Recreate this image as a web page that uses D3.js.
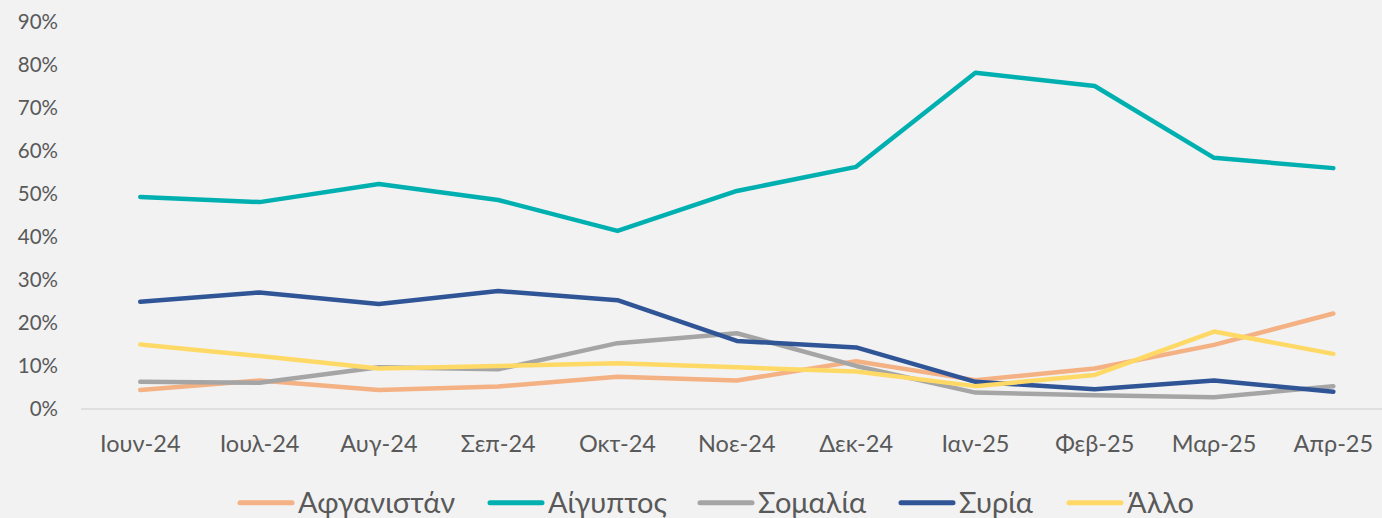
<!DOCTYPE html>
<html>
<head>
<meta charset="utf-8">
<script src="https://cdn.jsdelivr.net/npm/d3@7"></script>
<style>
  body { margin: 0; background: #f2f2f2; }
  svg { display: block; }
  text { font-family: Lato, "Open Sans", "Noto Sans", sans-serif; fill: #595959; }
</style>
</head>
<body>
<div id="chart"></div>
<script>
// months on the x axis
const months = ['Ιουν-24', 'Ιουλ-24', 'Αυγ-24', 'Σεπ-24', 'Οκτ-24', 'Νοε-24', 'Δεκ-24', 'Ιαν-25', 'Φεβ-25', 'Μαρ-25', 'Απρ-25'];

// share per country
const afghanistan = [0.043, 0.065, 0.043, 0.051, 0.074, 0.065, 0.110, 0.066, 0.093, 0.148, 0.221];
const egypt       = [0.492, 0.480, 0.522, 0.485, 0.413, 0.506, 0.562, 0.781, 0.750, 0.583, 0.559];
const somalia     = [0.062, 0.060, 0.096, 0.091, 0.152, 0.175, 0.099, 0.037, 0.031, 0.026, 0.052];
const syria       = [0.248, 0.270, 0.243, 0.273, 0.252, 0.157, 0.142, 0.062, 0.045, 0.065, 0.039];
const other       = [0.149, 0.122, 0.093, 0.099, 0.105, 0.096, 0.086, 0.052, 0.078, 0.179, 0.127];

const seriesNames = ['Αφγανιστάν', 'Αίγυπτος', 'Σομαλία', 'Συρία', 'Άλλο'];
const yTicks = [0, 0.1, 0.2, 0.3, 0.4, 0.5, 0.6, 0.7, 0.8, 0.9];

class LineChart {
  constructor(_config, _series) {
    this.config = {
      parentElement: _config.parentElement,
      width: _config.width || 1382,
      height: _config.height || 518,
      plotLeft: 80.6,
      plotRight: 1393,
      plotTop: 21.5,
      plotBottom: 408.5,
      colors: _config.colors
    }
    this.series = _series;
    this.initVis();
  }

  initVis() {
    let vis = this;

    vis.svg = d3.select(vis.config.parentElement).append('svg')
        .attr('width', vis.config.width)
        .attr('height', vis.config.height);

    vis.svg.append('rect')
        .attr('width', vis.config.width)
        .attr('height', vis.config.height)
        .attr('fill', '#f2f2f2');

    vis.xScale = d3.scaleBand()
        .domain(months)
        .range([vis.config.plotLeft, vis.config.plotRight]);

    vis.yScale = d3.scaleLinear()
        .domain([0, 0.9])
        .range([vis.config.plotBottom, vis.config.plotTop]);

    vis.renderVis();
  }

  renderVis() {
    let vis = this;
    const xc = d => vis.xScale(d) + vis.xScale.bandwidth() / 2;

    // y axis labels, no gridlines apart from the baseline
    const yAxis = d3.axisLeft(vis.yScale)
        .tickValues(yTicks)
        .tickFormat(d3.format('.0%'))
        .tickSize(0)
        .tickPadding(0);

    vis.svg.append('g')
        .attr('transform', 'translate(58,0)')
        .call(yAxis)
        .call(g => g.select('.domain').remove())
        .selectAll('text')
          .attr('font-size', 20.5)
          .attr('fill', '#595959');

    // x axis with category labels
    const xAxis = d3.axisBottom(vis.xScale)
        .tickSize(0)
        .tickPadding(27);

    vis.svg.append('g')
        .attr('transform', `translate(0,${vis.config.plotBottom})`)
        .call(xAxis)
        .call(g => g.select('.domain')
            .attr('stroke', '#d9d9d9')
            .attr('stroke-width', 1.5))
        .selectAll('text')
          .attr('font-size', 23.5)
          .attr('fill', '#595959');

    const line = d3.line()
        .x((d, i) => xc(months[i]))
        .y(d => vis.yScale(d));

    vis.svg.selectAll('.series')
        .data(vis.series)
      .join('path')
        .attr('class', 'series')
        .attr('d', line)
        .attr('fill', 'none')
        .attr('stroke', (d, i) => vis.config.colors[i])
        .attr('stroke-width', 4.5)
        .attr('stroke-linejoin', 'round')
        .attr('stroke-linecap', 'round');

    // legend
    const legendX = [238, 488, 698, 899, 1067];
    const legend = vis.svg.selectAll('.legend')
        .data(seriesNames)
      .join('g')
        .attr('class', 'legend')
        .attr('transform', (d, i) => `translate(${legendX[i]},502.7)`);

    legend.append('line')
        .attr('x1', 2)
        .attr('x2', 54)
        .attr('stroke', (d, i) => vis.config.colors[i])
        .attr('stroke-width', 5)
        .attr('stroke-linecap', 'round');

    legend.append('text')
        .attr('x', 60)
        .attr('dy', '0.35em')
        .attr('font-size', 29)
        .text(d => d);
  }
}

new LineChart({
  parentElement: '#chart',
  colors: ['#f4b183', '#00b0b0', '#a5a5a5', '#2f5597', '#ffd966']
}, [afghanistan, egypt, somalia, syria, other]);
</script>
</body>
</html>
